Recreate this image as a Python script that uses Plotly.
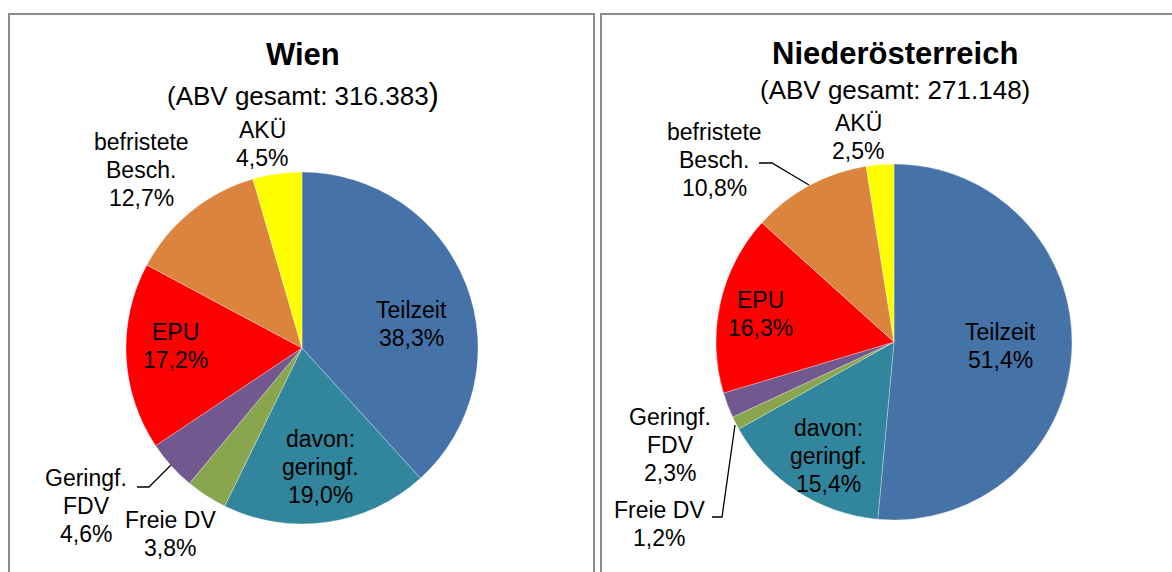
import plotly.graph_objects as go

W, H = 1172, 572

# ---- data ----
categories = ["Teilzeit", "davon: geringf.", "Freie DV", "Geringf. FDV", "EPU", "befristete Besch.", "AKÜ"]
label_lines = ["Teilzeit", "davon:<br>geringf.", "Freie DV", "Geringf.<br>FDV", "EPU", "befristete<br>Besch.", "AKÜ"]
wien_values = [38.3, 19.0, 3.8, 4.6, 17.2, 12.7, 4.5]
noe_values = [51.4, 15.4, 1.2, 2.3, 16.3, 10.8, 2.5]
titles = ["Wien", "Niederösterreich"]
totals = ["316.383", "271.148"]

# ---- styles ----
colors = ["#4572A7", "#31859C", "#89A54E", "#71588F", "#FF0000", "#DB843D", "#FFFF00"]
FONT = "Liberation Sans, Arial, sans-serif"
LINE_SP = 28

def px_x(x):
    return x / W

def px_y(y):
    return 1 - y / H

def fmt(v):
    return f"{v:.1f}".replace(".", ",") + "%"

fig = go.Figure()

# pie placement (pixel boxes)
pie_boxes = [(126, 478, 172, 524), (716, 1072, 164, 520)]
for vals, (x0, x1, y0, y1), name in zip([wien_values, noe_values], pie_boxes, titles):
    fig.add_trace(go.Pie(
        labels=categories, values=vals, sort=False, direction="clockwise", rotation=0,
        marker=dict(colors=colors, line=dict(color="rgba(255,255,255,0.6)", width=0.5)),
        textinfo="none", hoverinfo="label+percent", name=name,
        domain=dict(x=[px_x(x0), px_x(x1)], y=[px_y(y1), px_y(y0)]),
        showlegend=False,
    ))

# label positions (pixel centers of text blocks)
wien_pos = [(411, 324), (320, 467), (170, 534), (86, 506), (175, 346), (141, 170), (262, 144)]
noe_pos = [(1000, 346), (828, 456), (659, 524), (670, 445), (760, 314), (714, 160), (858, 137)]

annotations = []
for vals, poss in [(wien_values, wien_pos), (noe_values, noe_pos)]:
    for lab, v, (x, y) in zip(label_lines, vals, poss):
        lines = lab.split("<br>") + [fmt(v)]
        n = len(lines)
        for i, ln in enumerate(lines):
            yy = y + (i - (n - 1) / 2) * LINE_SP
            annotations.append(dict(
                x=px_x(x), y=px_y(yy), xref="paper", yref="paper",
                text=ln, showarrow=False,
                xanchor="center", yanchor="middle", align="center",
                font=dict(family=FONT, size=23, color="black"),
            ))

# titles
title_pos = [(303, 55, 95), (895, 53, 90)]
for i, (t, tot, (x, yt, ys)) in enumerate(zip(titles, totals, title_pos)):
    annotations.append(dict(
        x=px_x(x), y=px_y(yt), xref="paper", yref="paper", text=f"<b>{t}</b>",
        showarrow=False, xanchor="center", yanchor="middle",
        font=dict(family=FONT, size=31, color="black"),
    ))
    close = "<span style='font-size:31px'>)</span>" if i == 0 else ")"
    annotations.append(dict(
        x=px_x(x), y=px_y(ys), xref="paper", yref="paper", text=f"(ABV gesamt: {tot}{close}",
        showarrow=False, xanchor="center", yanchor="middle",
        font=dict(family=FONT, size=26, color="black"),
    ))

shapes = []
# frame boxes
for x0, x1 in [(9, 594), (601, 1180)]:
    shapes.append(dict(type="path", xref="paper", yref="paper",
                       path=f"M {px_x(x0)} {px_y(600)} L {px_x(x0)} {px_y(14)} L {px_x(x1)} {px_y(14)} L {px_x(x1)} {px_y(600)}",
                       line=dict(color="#8C8C8C", width=2)))
# leader lines
leaders = [
    [(137, 487), (149, 487), (171, 465)],
    [(759, 163), (772, 163), (809, 185)],
    [(712, 517), (722, 517), (735, 425)],
]
for pts in leaders:
    path = "M " + " L ".join(f"{px_x(x)} {px_y(y)}" for x, y in pts)
    shapes.append(dict(type="path", xref="paper", yref="paper", path=path,
                       line=dict(color="black", width=1.3)))

fig.update_layout(
    width=W, height=H, margin=dict(l=0, r=0, t=0, b=0),
    paper_bgcolor="white", plot_bgcolor="white",
    annotations=annotations, shapes=shapes, showlegend=False,
    font=dict(family=FONT),
)

fig.write_html("out.html", config={"displayModeBar": False},
               post_script="document.body.style.margin='0';document.body.style.overflow='hidden';")
